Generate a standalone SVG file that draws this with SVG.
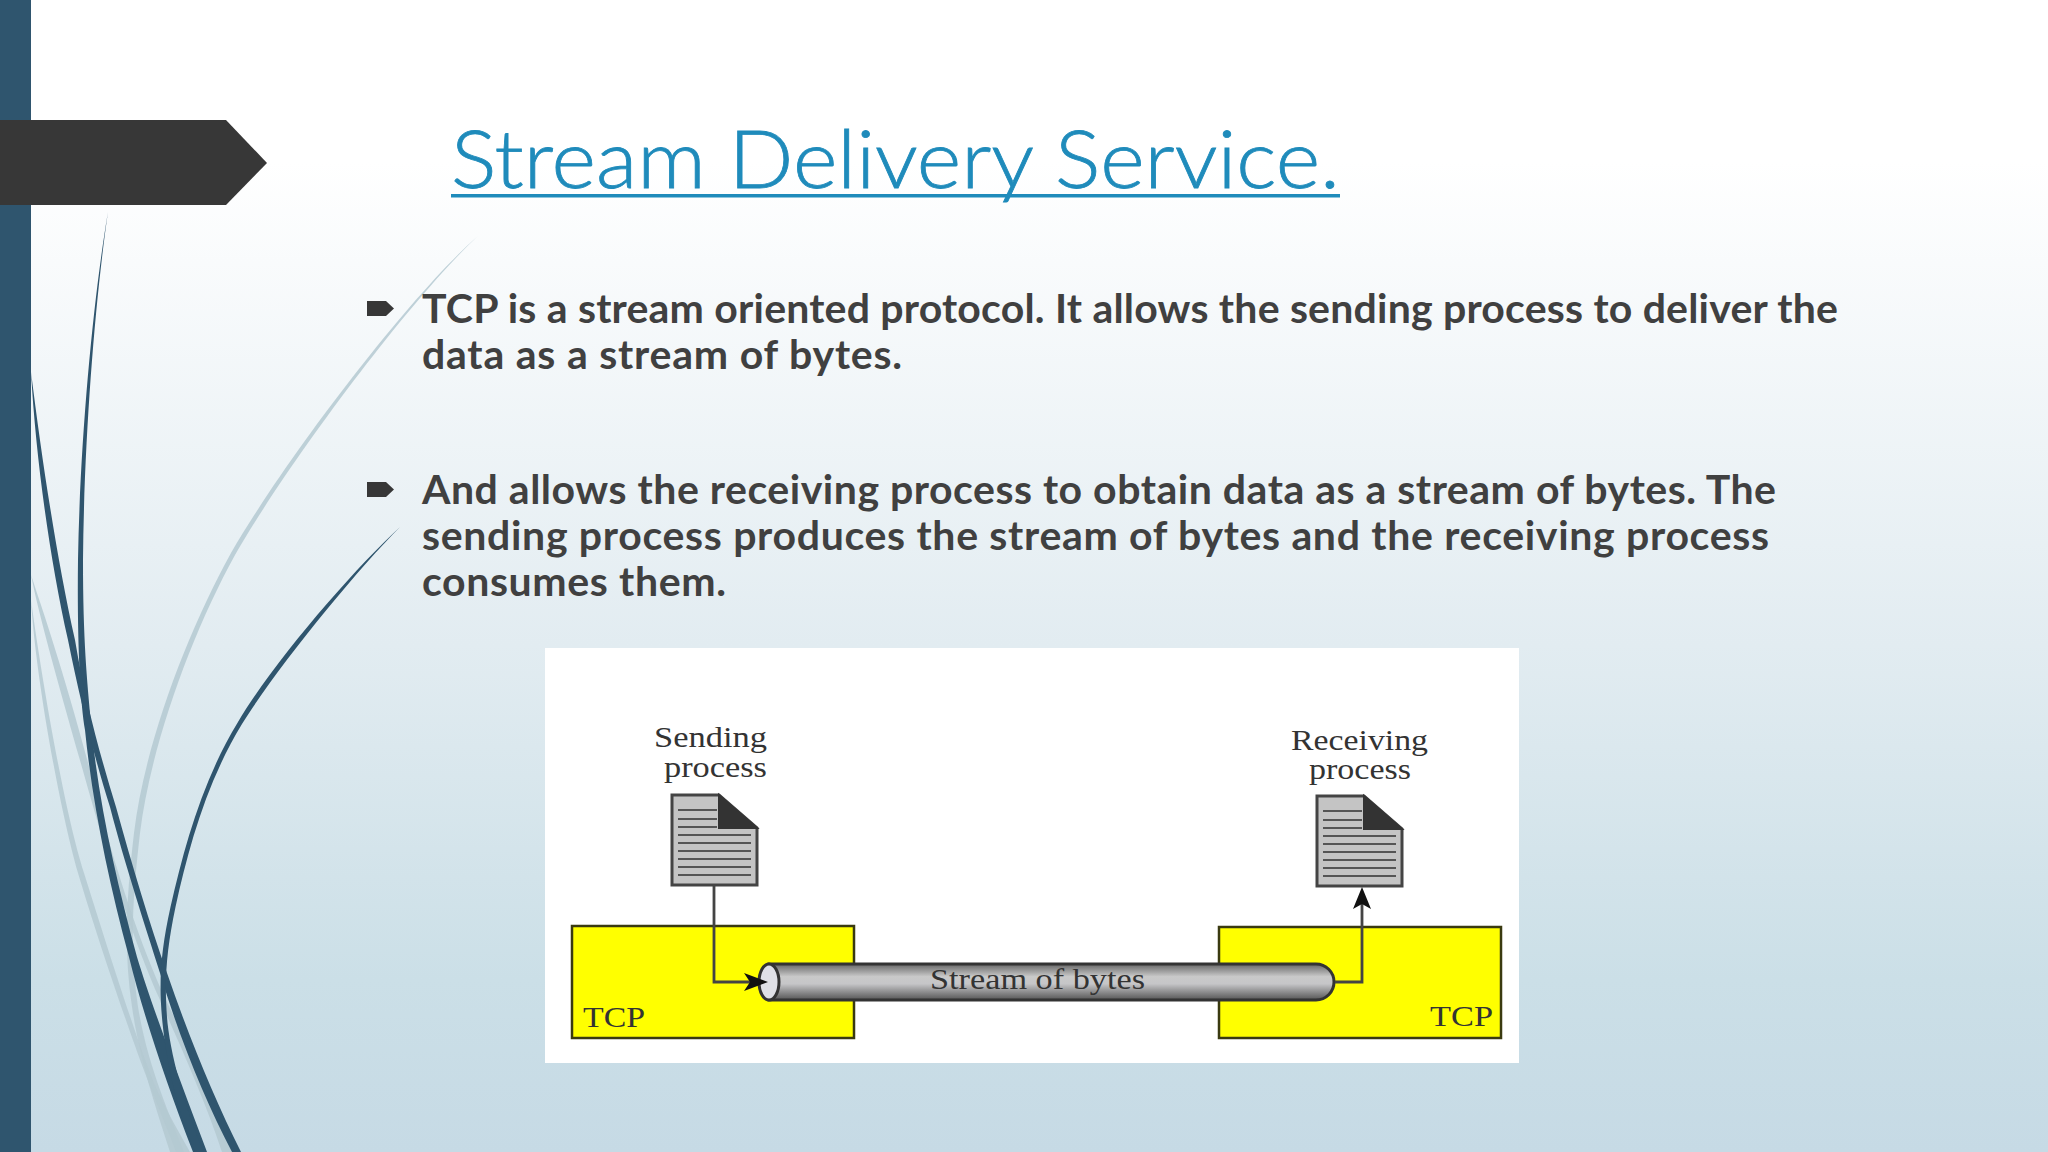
<svg xmlns="http://www.w3.org/2000/svg" xmlns:xlink="http://www.w3.org/1999/xlink" width="2048" height="1152" viewBox="0 0 2048 1152">
<style>
.body{font-family:"Lato","Open Sans",sans-serif;font-weight:700;font-size:41px;fill:#404040}
.lbl{font-family:"Liberation Serif",serif;font-size:29px;fill:#333}
.dk{fill:#2f556e}
.lt{fill:#b4c9d1;opacity:.85}
.box{fill:#ffff00;stroke:#3a3a10;stroke-width:2.5}
.doc{fill:#c4c4c4;stroke:#444;stroke-width:3}
.rule{stroke:#555;stroke-width:1.8;fill:none}
.conn{fill:none;stroke:#444;stroke-width:2.8}
</style>
<defs>
<linearGradient id="bg" x1="0" y1="0" x2="0" y2="1">
<stop offset="0" stop-color="#ffffff"/><stop offset=".14" stop-color="#ffffff"/><stop offset=".56" stop-color="#e2ecf1"/><stop offset=".85" stop-color="#cbdfe7"/><stop offset="1" stop-color="#c6dae5"/>
</linearGradient>
<linearGradient id="tube" x1="0" y1="0" x2="0" y2="1">
<stop offset="0" stop-color="#666"/><stop offset=".35" stop-color="#c9c9c9"/><stop offset=".55" stop-color="#c6c6c8"/><stop offset="1" stop-color="#555"/>
</linearGradient>
<g id="docshape">
<path class="doc" d="M0,0H47L85,33V90H0Z"/>
<path d="M47,0L85,33H47Z" fill="#333" stroke="#333" stroke-width="2"/>
<path class="rule" d="M6,15H45M6,24H45M6,32H45M6,40H79M6,48H79M6,56H79M6,64H79M6,72H79M6,80H79"/>
</g>
</defs>
<rect width="2048" height="1152" fill="url(#bg)"/>
<g id="decor">
<path class="lt" d="M478,236C410,295 286,458 231,553C188,631 145,742 134,833C127,893 123,947 132,1007C141,1067 157,1110 170,1152L184,1152C168,1110 148,1067 138,1007C129,947 133,893 140,833C151,744 192,633 235,555C289,461 412,297 478,236Z"/>
<path class="lt" d="M31,600C36,680 60,810 78,873C95,930 125,1020 145,1073C155,1100 168,1130 176,1152L190,1152C175,1125 160,1100 150,1073C130,1020 102,930 84,873C64,810 42,680 31,600Z"/>
<path class="lt" d="M31,575C40,620 60,690 97,820C110,865 135,945 160,1000C180,1045 205,1100 222,1152L232,1152C212,1100 190,1050 166,1000C140,945 115,865 103,820C70,690 46,620 31,575Z"/>
<path class="dk" d="M108,212C93,300 80,440 78,560C77,640 80,700 85,730C92,800 108,880 129,957C142,1010 165,1080 193,1152L207,1152C182,1085 153,1010 137,957C116,880 98,800 91,723C87,680 83,640 83,560C84,440 95,300 108,212Z"/>
<path class="dk" d="M31,372C36,460 50,560 68,640C80,700 95,760 110,807C125,865 145,925 160,973C180,1040 205,1100 232,1152L241,1152C215,1100 190,1040 167,973C150,925 132,865 116,807C100,755 85,700 75,640C57,560 42,460 31,372Z"/>
<path class="dk" d="M400,527C355,568 274,661 238,722C202,781 184,848 170.500,907C160.500,952 158.500,983 162.500,1023C166.500,1063 178,1115 195,1152L204,1152C187,1113 172,1062 167.500,1023C164,983 166,952 175.500,907C188,850 206,783 242,724C278,666 357,570 400,527Z"/>
<rect x="0" y="0" width="31" height="1152" fill="#2f556e"/>
<path d="M0,120H226L267,163L226,205H0Z" fill="#373737"/>
</g>
<g id="title">
<text x="451" y="188" font-family="Lato,'Open Sans',sans-serif" font-weight="300" font-size="80" fill="#1f8bbb" stroke="#1f8bbb" stroke-width="0.8" textLength="889" lengthAdjust="spacingAndGlyphs">Stream Delivery Service.</text>
<rect x="451" y="194" width="889" height="3.500" fill="#1f8bbb"/>
</g>
<g id="bullets">
<path id="b1" d="M367,301H386L394,308.500L386,316H367Z" fill="#373737"/>
<path id="b2" d="M367,482H386L394,489.500L386,497H367Z" fill="#373737"/>
<text class="body" x="422" y="323" textLength="1416" lengthAdjust="spacing">TCP is a stream oriented protocol. It allows the sending process to deliver the</text>
<text class="body" x="422" y="369" textLength="480" lengthAdjust="spacing">data as a stream of bytes.</text>
<text class="body" x="422" y="504" textLength="1354" lengthAdjust="spacing">And allows the receiving process to obtain data as a stream of bytes. The</text>
<text class="body" x="422" y="550" textLength="1347" lengthAdjust="spacing">sending process produces the stream of bytes and the receiving process</text>
<text class="body" x="422" y="596" textLength="304" lengthAdjust="spacing">consumes them.</text>
</g>
<rect id="figure" x="545" y="648" width="974" height="415" fill="#ffffff"/>
<g id="tcp-left"><rect class="box" x="572" y="926" width="282" height="112"/>
<text class="lbl" x="583" y="1027" textLength="62" lengthAdjust="spacingAndGlyphs">TCP</text></g>
<g id="tcp-right"><rect class="box" x="1219" y="927" width="282" height="111"/>
<text class="lbl" x="1430" y="1026" textLength="63" lengthAdjust="spacingAndGlyphs">TCP</text></g>
<g id="sending">
<text class="lbl" x="654" y="747" textLength="113" lengthAdjust="spacingAndGlyphs">Sending</text>
<text class="lbl" x="664" y="777" textLength="103" lengthAdjust="spacingAndGlyphs">process</text>
<use href="#docshape" xlink:href="#docshape" x="672" y="795"/>
</g>
<g id="receiving">
<text class="lbl" x="1291" y="750" textLength="137" lengthAdjust="spacingAndGlyphs">Receiving</text>
<text class="lbl" x="1309" y="779" textLength="102" lengthAdjust="spacingAndGlyphs">process</text>
<use href="#docshape" xlink:href="#docshape" x="1317" y="796"/>
</g>
<g id="stream">
<path d="M769,964H1316A18,18 0 0 1 1316,1000H769Z" fill="url(#tube)" stroke="#333" stroke-width="3"/>
<ellipse cx="769" cy="982" rx="10" ry="18" fill="#dfe0e6" stroke="#333" stroke-width="3"/>
<text class="lbl" x="930" y="989" textLength="215" lengthAdjust="spacingAndGlyphs">Stream of bytes</text>
</g>
<g id="connectors">
<path class="conn" d="M714,886V982H760"/>
<path d="M744,973L768,982L744,991L750,982Z" fill="#111"/>
<path class="conn" d="M1335,982H1362V895"/>
<path d="M1362,887L1371,909L1362,904L1353,909Z" fill="#111"/>
</g>
</svg>
